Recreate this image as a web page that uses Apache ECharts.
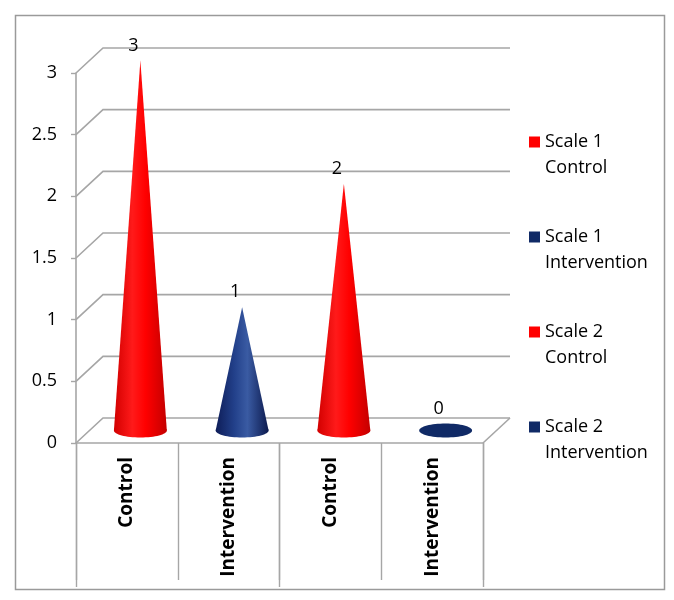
<!DOCTYPE html>
<html>
<head>
<meta charset="utf-8">
<script src="https://cdn.jsdelivr.net/npm/echarts@6/dist/echarts.min.js"></script>
<style>
html, body { margin: 0; padding: 0; background: #fff; }
#layout { width: 674px; height: 600px; }
</style>
</head>
<body>
<div id="layout"></div>
<script>
// chart data
const categories = ['Control', 'Intervention', 'Control', 'Intervention'];
const seriesNames = ['Scale 1\nControl', 'Scale 1\nIntervention', 'Scale 2\nControl', 'Scale 2\nIntervention'];
const values = [3, 1, 2, 0];
const yTicks = [0, 0.5, 1, 1.5, 2, 2.5, 3];

const FONT = '"Open Sans", Lato, sans-serif';
const GRID_COLOR = '#a6a6a6';
const DEPTH_X = 27, DEPTH_Y = -25;   // 3d depth of the plot box

const palette = [
    {flat: '#ff0000', stops: ['#d20000', '#ff1a1a', '#ff0000', '#c40000']},
    {flat: '#102a66', stops: ['#0e1d58', '#22408a', '#3a5ba3', '#0c1a4e']},
    {flat: '#ff0000', stops: ['#d20000', '#ff1a1a', '#ff0000', '#c40000']},
    {flat: '#102a66', stops: ['#0e1d58', '#22408a', '#3a5ba3', '#0c1a4e']}
];

function gradient(stops) {
    return {
        type: 'linear', x: 0, y: 0, x2: 1, y2: 0,
        colorStops: [
            {offset: 0, color: stops[0]},
            {offset: 0.35, color: stops[1]},
            {offset: 0.6, color: stops[2]},
            {offset: 1, color: stops[3]}
        ]
    };
}

// back wall, side walls and floor lines
function renderWall(params, api) {
    const cs = params.coordSys;
    const v = api.value(1);
    const y = api.coord([0, v])[1];
    const x0 = cs.x;
    const children = [{
        type: 'polyline',
        shape: {points: [[x0, y], [x0 + DEPTH_X, y + DEPTH_Y], [x0 + cs.width + DEPTH_X, y + DEPTH_Y]]},
        style: {stroke: GRID_COLOR, lineWidth: 1.6, fill: null}
    }];
    if (v === 0) {
        children.push({
            type: 'line',
            shape: {x1: x0 + cs.width, y1: y, x2: x0 + cs.width + DEPTH_X, y2: y + DEPTH_Y},
            style: {stroke: GRID_COLOR, lineWidth: 1.6}
        });
    }
    return {type: 'group', children: children};
}

function makeCone(k) {
    return function(params, api) {
        const idx = api.value(0);
        const v = api.value(1);
        const tip = api.coord([idx, v]);
        const base = api.coord([idx, 0]);
        const band = api.size([1, 0])[0];
        const cx = base[0] + DEPTH_X / 2;
        const by = base[1] + DEPTH_Y / 2;
        const ty = tip[1] + DEPTH_Y / 2;
        const rx = band * 0.26, ry = 7;
        const children = [];
        if (v > 0) {
            const fill = gradient(palette[k].stops);
            children.push({type: 'ellipse', shape: {cx: cx, cy: by, rx: rx, ry: ry}, style: {fill: fill}});
            children.push({type: 'polygon', shape: {points: [[cx - rx, by], [cx, ty], [cx + rx, by]]}, style: {fill: fill}});
        } else {
            children.push({type: 'ellipse', shape: {cx: cx, cy: by, rx: rx, ry: ry}, style: {fill: palette[k].flat}});
        }
        children.push({
            type: 'text',
            x: cx - 7,
            y: (v > 0 ? ty : by - ry) - 15,
            style: {text: String(v), fill: '#000', font: '18px ' + FONT, align: 'center', verticalAlign: 'middle'}
        });
        return {type: 'group', children: children};
    };
}

let myChart = echarts.init(document.getElementById('layout'));

let series = [{
    type: 'custom',
    name: 'wall',
    renderItem: renderWall,
    silent: true,
    z: 1,
    encode: {x: 0, y: 1},
    data: yTicks.map(function(t) { return [0, t]; })
}];
values.forEach(function(v, i) {
    series.push({
        type: 'custom',
        name: seriesNames[i],
        renderItem: makeCone(i),
        z: 3,
        itemStyle: {color: palette[i].flat},
        encode: {x: 0, y: 1},
        data: [[i, v]]
    });
});

let option = {
    animation: false,
    graphic: [{
        type: 'rect',
        left: 13, top: 13,
        shape: {width: 649, height: 574},
        style: {fill: null, stroke: '#9a9a9a', lineWidth: 1.5}
    }],
    legend: {
        orient: 'vertical',
        left: 529,
        top: 103,
        padding: 0,
        itemGap: 17,
        itemWidth: 11,
        itemHeight: 11,
        icon: 'rect',
        data: seriesNames,
        // empty first line keeps the marker level with the first text line
        formatter: function(name) { return '\n' + name; },
        textStyle: {fontFamily: FONT, fontSize: 18, lineHeight: 26, color: '#000'}
    },
    grid: {left: 76, top: 73, width: 407, height: 370, containLabel: false},
    xAxis: [{
        type: 'category',
        data: categories,
        boundaryGap: true,
        axisLine: {lineStyle: {color: GRID_COLOR, width: 1.6}},
        axisTick: {show: true, length: 137, lineStyle: {color: GRID_COLOR, width: 1.4}},
        axisLabel: {rotate: 90, margin: 14, fontFamily: FONT, fontSize: 19, fontWeight: 'bold', color: '#000'},
        splitLine: {show: false}
    }, {
        type: 'category',
        data: categories,
        boundaryGap: true,
        position: 'bottom',
        axisLine: {show: false},
        axisTick: {show: true, interval: 1, length: 144, lineStyle: {color: GRID_COLOR, width: 1.4}},
        axisLabel: {show: false},
        splitLine: {show: false}
    }],
    yAxis: {
        type: 'value',
        min: 0,
        max: 3,
        interval: 0.5,
        axisLine: {show: true, lineStyle: {color: GRID_COLOR, width: 1.6}},
        axisTick: {show: true, length: 5, lineStyle: {color: GRID_COLOR, width: 1.4}},
        axisLabel: {margin: 19, fontFamily: FONT, fontSize: 18, color: '#000'},
        splitLine: {show: false}
    },
    series: series
};
myChart.setOption(option);
window.onresize = myChart.resize;
</script>
</body>
</html>
